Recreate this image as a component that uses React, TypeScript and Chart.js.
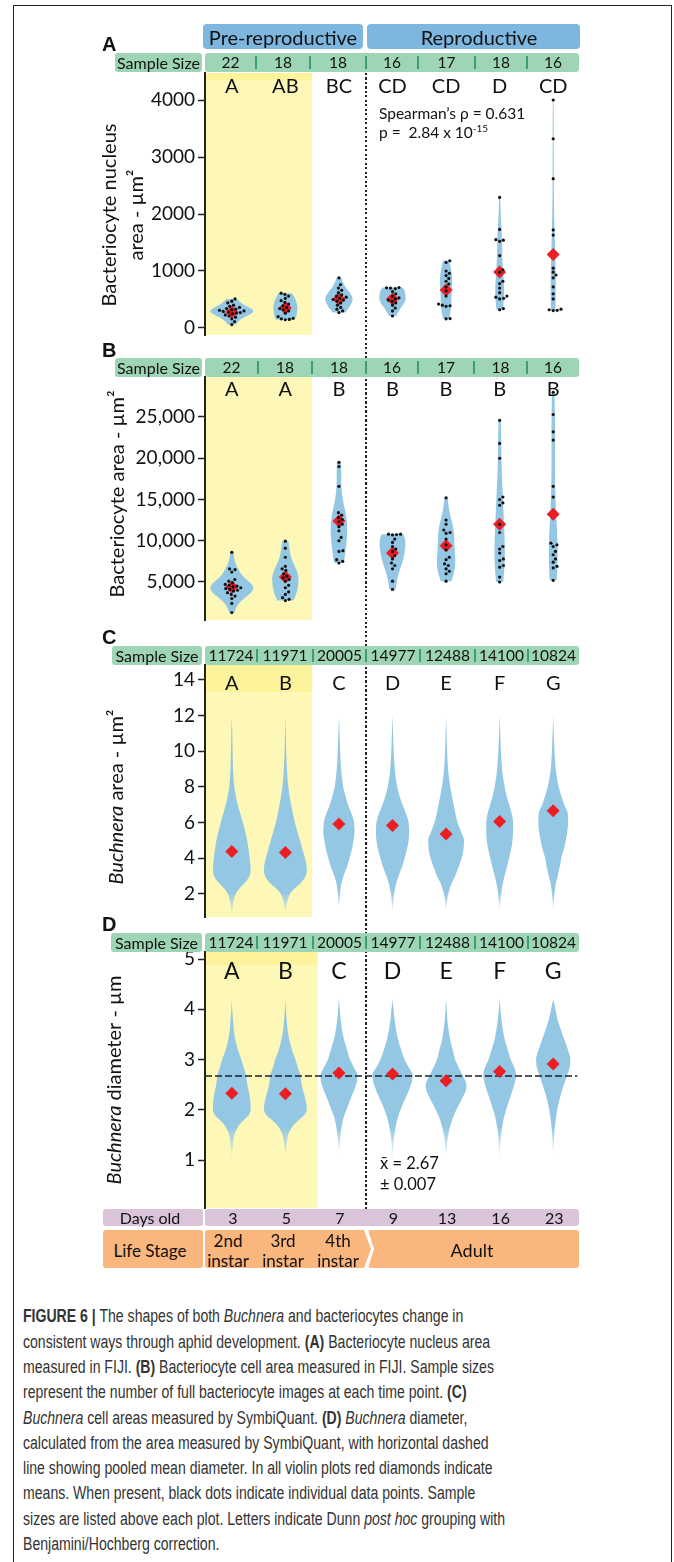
import React, { useEffect, useRef, useMemo } from "react";
import { Chart, registerables } from "chart.js";

Chart.register(...registerables);
Chart.defaults.font.family = "Lato";

if (typeof document !== "undefined") {
  document.body.style.margin = "0";
}

// ---------------- data ----------------
const phaseLabels = ["Pre-reproductive", "Reproductive"];
const daysOld = ["3", "5", "7", "9", "13", "16", "23"];
const instarLabels = ["2nd instar", "3rd instar", "4th instar"];
const adultLabel = "Adult";

// Panel A: bacteriocyte nucleus area (µm²)
const nucleusSampleSizes = ["22", "18", "18", "16", "17", "18", "16"];
const nucleusLetters = ["A", "AB", "BC", "CD", "CD", "D", "CD"];
const nucleusMeans = [281, 350, 509, 509, 667, 982, 1290];
const nucleusTicks = [0, 1000, 2000, 3000, 4000];
const nucleusPoints = [
  [510, 470, 440, 400, 380, 360, 340, 330, 320, 310, 300, 290, 280, 270, 260, 250, 230, 210, 190, 160, 110, 60],
  [610, 590, 560, 520, 480, 450, 420, 390, 360, 340, 320, 300, 260, 200, 170, 160, 150, 145],
  [880, 760, 700, 660, 620, 580, 560, 540, 520, 500, 490, 470, 440, 400, 360, 330, 300, 270],
  [710, 705, 700, 690, 640, 600, 560, 530, 510, 490, 470, 440, 400, 350, 300, 210],
  [1180, 1150, 1000, 960, 920, 870, 820, 770, 720, 650, 560, 420, 400, 390, 380, 165, 160],
  [2290, 1730, 1550, 1540, 1520, 1270, 1020, 980, 820, 780, 700, 620, 560, 540, 520, 510, 340, 320],
  [4000, 3320, 2620, 1720, 1630, 1050, 980, 930, 880, 720, 600, 510, 330, 320, 310, 305],
];

// Panel B: bacteriocyte area (µm²)
const cellSampleSizes = ["22", "18", "18", "16", "17", "18", "16"];
const cellLetters = ["A", "A", "B", "B", "B", "B", "B"];
const cellMeans = [4400, 5600, 12400, 8500, 9400, 12000, 13200];
const cellTicks = [5000, 10000, 15000, 20000, 25000];
const cellPoints = [
  [8600, 6600, 6500, 6200, 5300, 5100, 4900, 4700, 4600, 4500, 4400, 4300, 4200, 4100, 4000, 3900, 3700, 3500, 3300, 3000, 2400, 1300],
  [9950, 9100, 8000, 6900, 6600, 6400, 6000, 5700, 5500, 5300, 5100, 4600, 4300, 3800, 3500, 3100, 2900, 2750],
  [19500, 19000, 16600, 13400, 13100, 12800, 12600, 12300, 12000, 11700, 11200, 10400, 10000, 8800, 8700, 7700, 7500, 7300],
  [10800, 10800, 10750, 10700, 10200, 9800, 9300, 9000, 8700, 8200, 7800, 7300, 7000, 6600, 5100, 4100],
  [15200, 12500, 12000, 11300, 11000, 10900, 10200, 9500, 8900, 8000, 7700, 7200, 7000, 6600, 6300, 6000, 5100],
  [24600, 21800, 20000, 15300, 15000, 14600, 14300, 12000, 11000, 9300, 9000, 8500, 7800, 7600, 7000, 6800, 5600, 5000],
  [28000, 25300, 23200, 22200, 16600, 15300, 9700, 9500, 9300, 8700, 8300, 7800, 7400, 6900, 6700, 5200],
];

// Panels C & D: Buchnera (distributions given as relative density at levels)
const buchneraSampleSizes = ["11724", "11971", "20005", "14977", "12488", "14100", "10824"];
const buchneraLetters = ["A", "B", "C", "D", "E", "F", "G"];

const areaMeans = [4.38, 4.32, 5.93, 5.84, 5.37, 6.06, 6.67];
const areaTicks = [2, 4, 6, 8, 10, 12, 14];
const areaLevels = [0.8, 1.0, 1.3, 1.6, 2.0, 2.3, 2.6, 3.0, 3.3, 3.6, 4.0, 4.5, 5.0, 5.5, 6.0, 6.5, 7.0, 7.5, 8.0, 9.0, 10.0, 11.0, 12.0];
const areaDensity = [
  [0, 0.5, 1.0, 1.8, 3.8, 7.5, 12.5, 17.5, 18.7, 18.5, 17.8, 16.7, 15.3, 13.3, 11, 8.5, 6, 4, 2.6, 1.3, 0.8, 0.5, 0],
  [0, 0.3, 1.0, 2.0, 4.5, 9, 15, 20, 21.3, 21, 19.5, 17, 14.5, 12, 9.5, 7.5, 5.8, 4.2, 3, 1.5, 0.8, 0.4, 0],
  [0, 0, 0, 0.5, 1.0, 1.6, 2.5, 4.5, 6.5, 8.5, 10.5, 12.8, 14.5, 15.5, 15.0, 12.5, 9, 6.5, 4.3, 2.2, 1.2, 0.6, 0],
  [0, 0, 0.4, 0.8, 1.5, 2.5, 3.8, 6, 8, 10, 12, 14.3, 16, 16.5, 16, 13.5, 10, 7, 4.8, 2.3, 1.2, 0.6, 0],
  [0, 0, 0.4, 1.0, 2.2, 3.6, 5.5, 9, 11, 13, 15.3, 17.3, 17.8, 14.8, 11.5, 9.3, 7.5, 5.8, 4.2, 2.0, 1.0, 0.5, 0],
  [0, 0, 0.3, 0.8, 1.5, 2.2, 3.2, 4.8, 6.2, 7.6, 9.3, 11.3, 12.8, 13.3, 13.3, 12, 9.5, 7, 5, 2.5, 1.3, 0.6, 0],
  [0, 0, 0.3, 0.6, 1.2, 1.8, 2.6, 4.5, 5.5, 6.8, 8, 10.5, 12.5, 14, 14.8, 14.5, 11, 8, 5.5, 2.5, 1.3, 0.6, 0],
];

const diameterMeans = [2.33, 2.32, 2.73, 2.71, 2.58, 2.76, 2.91];
const diameterTicks = [1, 2, 3, 4, 5];
const pooledMeanDiameter = 2.67;
const diameterLevels = [1.0, 1.1, 1.2, 1.3, 1.4, 1.5, 1.6, 1.7, 1.8, 1.9, 2.0, 2.1, 2.2, 2.3, 2.4, 2.5, 2.6, 2.7, 2.8, 2.9, 3.0, 3.2, 3.4, 3.6, 3.8, 4.0, 4.2];
const diameterDensity = [
  [0, 0.4, 0.8, 1.2, 1.7, 2.5, 4.5, 7.5, 12, 17, 18.7, 18.7, 18.2, 17.5, 16.5, 15.5, 14.8, 14, 12.5, 11, 9.5, 6, 3.5, 2, 1.2, 0.5, 0],
  [0, 0.3, 0.7, 1.2, 1.8, 2.8, 5, 8.5, 13.5, 19, 21.3, 21, 20, 18.8, 17.3, 16.3, 15.5, 15, 13, 11.5, 10, 6.5, 3.8, 2.2, 1.2, 0.5, 0],
  [0, 0, 0.2, 0.5, 1.0, 1.5, 2.2, 3, 4, 5.5, 7.5, 9.3, 11.3, 13.3, 15.3, 17, 18.2, 18.3, 16, 13.5, 11, 8, 5, 3, 1.7, 0.8, 0],
  [0, 0.2, 0.5, 0.8, 1.2, 1.8, 2.6, 3.5, 4.7, 6.2, 8, 10, 12.2, 14.5, 16.5, 18.3, 19.7, 20, 17.5, 14.5, 12, 8.5, 5.5, 3.5, 2, 1, 0],
  [0, 0.2, 0.5, 0.9, 1.4, 2.2, 3.2, 4.5, 6, 8, 10.3, 12.8, 15.3, 17.8, 19.8, 20.3, 18.5, 16, 13.5, 11.2, 9, 6.5, 4, 2.4, 1.3, 0.6, 0],
  [0, 0.2, 0.4, 0.7, 1.0, 1.5, 2.1, 2.9, 3.8, 5, 6.5, 8, 9.7, 11.4, 13, 14.5, 15.7, 16.3, 15.3, 13.3, 11, 8, 5, 3.2, 1.8, 0.8, 0],
  [0, 0.1, 0.3, 0.5, 0.7, 1.0, 1.4, 1.9, 2.5, 3.2, 4, 5, 6.2, 7.5, 9, 10.6, 12.3, 14, 15.7, 16.8, 17, 14.5, 11, 7.5, 4.3, 2.2, 0],
];

// ---------------- layout / style ----------------
const W = 674;
const PLOT_LEFT = 205;
const PLOT_RIGHT = 580;
const PAD = 16;
const FONT = "Lato, 'Open Sans', sans-serif";
const COL = {
  blue: "rgb(125,182,223)",
  green: "rgb(158,214,181)",
  greenLine: "rgb(62,160,108)",
  mauve: "rgb(217,196,218)",
  orange: "rgb(249,182,125)",
  yellow: "rgb(254,248,184)",
  yellowStrong: "rgb(253,243,155)",
  violin: "rgb(147,199,227)",
  violinFaint: "rgba(147,199,227,0.12)",
  red: "rgb(236,30,36)",
  ink: "#111",
};

type Seg = { t: string; i?: boolean; b?: boolean };
type Spec = {
  id: string;
  plotTop: number;
  plotBottom: number;
  yMin: number;
  yMax: number;
  ticks: number[];
  fmt: (v: number) => string;
  letters: string[];
  letterY: number;
  letterSize: number;
  means: number[];
  points?: number[][];
  levels?: number[];
  density?: number[][];
  fade?: [number, number];
  title: Seg[][];
  titleX: number[];
  titleY: number;
  titleSize: number;
  yellowEnd: number;
  yellowStrip: number;
  refLine?: number;
};

const specs: Spec[] = [
  {
    id: "A", plotTop: 73, plotBottom: 335, yMin: -123, yMax: 4474,
    ticks: nucleusTicks, fmt: (v) => String(v),
    letters: nucleusLetters, letterY: 87, letterSize: 20, means: nucleusMeans, points: nucleusPoints,
    title: [[{ t: "Bacteriocyte nucleus" }], [{ t: "area - µm²" }]], titleX: [110, 137], titleY: 215, titleSize: 20,
    yellowEnd: 1.5, yellowStrip: 7,
  },
  {
    id: "B", plotTop: 377, plotBottom: 620, yMin: 394, yMax: 29848,
    ticks: cellTicks, fmt: (v) => v.toLocaleString("en-US"),
    letters: cellLetters, letterY: 390, letterSize: 20, means: cellMeans, points: cellPoints,
    title: [[{ t: "Bacteriocyte area - µm²" }]], titleX: [118], titleY: 494, titleSize: 20,
    yellowEnd: 1.5, yellowStrip: 0,
  },
  {
    id: "C", plotTop: 665, plotBottom: 917, yMin: 0.71, yMax: 14.84,
    ticks: areaTicks, fmt: (v) => String(v),
    letters: buchneraLetters, letterY: 684, letterSize: 20, means: areaMeans,
    levels: areaLevels, density: areaDensity, fade: [2.1, 0.9],
    title: [[{ t: "Buchnera", i: true }, { t: " area - µm²" }]], titleX: [117], titleY: 797, titleSize: 20,
    yellowEnd: 1.5, yellowStrip: 27,
  },
  {
    id: "D", plotTop: 952, plotBottom: 1208, yMin: 0.045, yMax: 5.14,
    ticks: diameterTicks, fmt: (v) => String(v),
    letters: buchneraLetters, letterY: 972, letterSize: 23, means: diameterMeans,
    levels: diameterLevels, density: diameterDensity, fade: [1.65, 1.05],
    title: [[{ t: "Buchnera", i: true }, { t: " diameter - µm" }]], titleX: [115], titleY: 1080, titleSize: 20,
    yellowEnd: 1.6, yellowStrip: 13, refLine: pooledMeanDiameter,
  },
];

// ---------------- helpers ----------------
function kdeProfile(vals: number[], steps = 140) {
  const n = vals.length;
  const mean = vals.reduce((a, b) => a + b, 0) / n;
  const sd = Math.sqrt(vals.reduce((a, b) => a + (b - mean) ** 2, 0) / (n - 1));
  const bw = sd * Math.pow(n, -1 / 5);
  const lo = Math.min(...vals);
  const hi = Math.max(...vals);
  const v: number[] = [];
  const d: number[] = [];
  for (let s = 0; s <= steps; s++) {
    const y = lo + ((hi - lo) * s) / steps;
    let sum = 0;
    for (const x of vals) sum += Math.exp(-0.5 * ((y - x) / bw) ** 2);
    v.push(y);
    d.push(sum / (n * bw * Math.sqrt(2 * Math.PI)));
  }
  return { v, d };
}

function smoothProfile(levels: number[], dens: number[], steps = 240) {
  const n = levels.length;
  const h: number[] = [];
  const delta: number[] = [];
  for (let i = 0; i < n - 1; i++) {
    h[i] = levels[i + 1] - levels[i];
    delta[i] = (dens[i + 1] - dens[i]) / h[i];
  }
  const m: number[] = new Array(n).fill(0);
  m[0] = delta[0];
  m[n - 1] = delta[n - 2];
  for (let i = 1; i < n - 1; i++) {
    if (delta[i - 1] * delta[i] <= 0) m[i] = 0;
    else {
      const w1 = 2 * h[i] + h[i - 1];
      const w2 = h[i] + 2 * h[i - 1];
      m[i] = (w1 + w2) / (w1 / delta[i - 1] + w2 / delta[i]);
    }
  }
  const v: number[] = [];
  const d: number[] = [];
  const lo = levels[0];
  const hi = levels[n - 1];
  let i = 0;
  for (let s = 0; s <= steps; s++) {
    const y = lo + ((hi - lo) * s) / steps;
    while (i < n - 2 && y > levels[i + 1]) i++;
    const t = (y - levels[i]) / h[i];
    const t2 = t * t;
    const t3 = t2 * t;
    const val =
      (2 * t3 - 3 * t2 + 1) * dens[i] +
      (t3 - 2 * t2 + t) * h[i] * m[i] +
      (-2 * t3 + 3 * t2) * dens[i + 1] +
      (t3 - t2) * h[i] * m[i + 1];
    v.push(y);
    d.push(Math.max(0, val));
  }
  return { v, d };
}

function swarm(px: number[], dist: number): number[] {
  const order = px.map((_, i) => i).sort((a, b) => px[a] - px[b]);
  const placed: { x: number; y: number }[] = [];
  const out = new Array(px.length).fill(0);
  for (const i of order) {
    const y = px[i];
    for (let k = 0; k < 600; k++) {
      const x = (k % 2 === 1 ? 1 : -1) * Math.ceil(k / 2) * 0.25;
      if (placed.every((p) => (p.x - x) ** 2 + (p.y - y) ** 2 >= dist * dist)) {
        out[i] = x;
        placed.push({ x, y });
        break;
      }
    }
  }
  return out;
}

function PanelChart({ spec }: { spec: Spec }) {
  const ref = useRef<HTMLCanvasElement>(null);
  const canvasTop = spec.plotTop - PAD;
  const height = spec.plotBottom - spec.plotTop + 2 * PAD;

  useEffect(() => {
    if (!ref.current) return;
    const pxPerCat = (PLOT_RIGHT - PLOT_LEFT) / 7;
    const pxPerVal = (spec.plotBottom - spec.plotTop) / (spec.yMax - spec.yMin);
    const dots: { x: number; y: number }[] = [];
    if (spec.points) {
      spec.points.forEach((vals, i) => {
        const offs = swarm(vals.map((v) => v * pxPerVal), 3.9);
        vals.forEach((v, k) => dots.push({ x: i + offs[k] / pxPerCat, y: v }));
      });
    }
    const profiles = spec.points
      ? spec.points.map((vals) => kdeProfile(vals))
      : spec.density!.map((d) => smoothProfile(spec.levels!, d));
    const maxD = Math.max(...profiles.map((p) => Math.max(...p.d)));

    const plugin = {
      id: "figure" + spec.id,
      beforeDraw(chart: any) {
        const { ctx, chartArea: a, scales } = chart;
        const x = scales.x;
        ctx.save();
        const xEnd = x.getPixelForValue(spec.yellowEnd);
        ctx.fillStyle = COL.yellow;
        ctx.fillRect(a.left, a.top, xEnd - a.left, a.bottom - a.top);
        if (spec.yellowStrip) {
          ctx.fillStyle = COL.yellowStrong;
          ctx.fillRect(a.left, a.top, xEnd - a.left, spec.yellowStrip);
        }
        // y-axis title
        spec.title.forEach((line, li) => {
          ctx.save();
          ctx.translate(spec.titleX[li], spec.titleY - canvasTop);
          ctx.rotate(-Math.PI / 2);
          ctx.textBaseline = "middle";
          ctx.fillStyle = COL.ink;
          const fontOf = (s: Seg) => `${s.i ? "italic " : ""}${spec.titleSize}px Lato`;
          let total = 0;
          line.forEach((s) => {
            ctx.font = fontOf(s);
            total += ctx.measureText(s.t).width;
          });
          let cx = -total / 2;
          line.forEach((s) => {
            ctx.font = fontOf(s);
            ctx.textAlign = "left";
            ctx.fillText(s.t, cx, 0);
            cx += ctx.measureText(s.t).width;
          });
          ctx.restore();
        });
        ctx.restore();
      },
      beforeDatasetsDraw(chart: any) {
        const { ctx, chartArea: a, scales } = chart;
        const x = scales.x;
        const y = scales.y;
        const half = 0.4 * (x.getPixelForValue(1) - x.getPixelForValue(0));
        ctx.save();
        ctx.beginPath();
        ctx.rect(a.left, a.top, a.right - a.left, a.bottom - a.top);
        ctx.clip();
        let fill: any = COL.violin;
        if (spec.fade) {
          const g = ctx.createLinearGradient(0, y.getPixelForValue(spec.fade[0]), 0, y.getPixelForValue(spec.fade[1]));
          g.addColorStop(0, COL.violin);
          g.addColorStop(1, COL.violinFaint);
          fill = g;
        }
        ctx.fillStyle = fill;
        profiles.forEach((p, i) => {
          const cx = x.getPixelForValue(i);
          ctx.beginPath();
          p.v.forEach((v, k) => {
            const px = cx + (p.d[k] / maxD) * half;
            const py = y.getPixelForValue(v);
            if (k === 0) ctx.moveTo(px, py);
            else ctx.lineTo(px, py);
          });
          for (let k = p.v.length - 1; k >= 0; k--) {
            ctx.lineTo(cx - (p.d[k] / maxD) * half, y.getPixelForValue(p.v[k]));
          }
          ctx.closePath();
          ctx.fill();
        });
        if (spec.refLine !== undefined) {
          const ry = y.getPixelForValue(spec.refLine);
          ctx.strokeStyle = "#222";
          ctx.lineWidth = 1.5;
          ctx.setLineDash([7, 3]);
          ctx.beginPath();
          ctx.moveTo(a.left, ry);
          ctx.lineTo(x.getPixelForValue(6.45), ry);
          ctx.stroke();
          ctx.setLineDash([]);
        }
        ctx.restore();
      },
      afterDatasetsDraw(chart: any) {
        const { ctx, scales } = chart;
        const x = scales.x;
        ctx.save();
        ctx.font = `${spec.letterSize}px Lato`;
        ctx.textAlign = "center";
        ctx.textBaseline = "middle";
        ctx.fillStyle = COL.ink;
        spec.letters.forEach((l, i) => {
          ctx.fillText(l, x.getPixelForValue(i), spec.letterY - canvasTop);
        });
        ctx.restore();
      },
    };

    const chart = new Chart(ref.current, {
      type: "scatter",
      data: {
        datasets: [
          {
            data: dots,
            pointRadius: 1.6,
            pointBackgroundColor: "#111",
            pointBorderWidth: 0,
            order: 0,
          },
          {
            data: spec.means.map((m, i) => ({ x: i, y: m })),
            pointStyle: "rectRot",
            pointRadius: 6.5,
            pointBackgroundColor: COL.red,
            pointBorderWidth: 0,
            order: 1,
          },
        ],
      },
      options: {
        responsive: false,
        animation: false,
        devicePixelRatio: 1,
        events: [],
        layout: { padding: { top: PAD, bottom: PAD, left: 0, right: W - PLOT_RIGHT } },
        plugins: { legend: { display: false }, tooltip: { enabled: false } },
        scales: {
          x: { type: "linear", min: -0.5, max: 6.5, display: false },
          y: {
            type: "linear",
            min: spec.yMin,
            max: spec.yMax,
            afterFit: (s: any) => {
              s.width = PLOT_LEFT;
            },
            afterBuildTicks: (s: any) => {
              s.ticks = spec.ticks.map((v) => ({ value: v }));
            },
            ticks: {
              callback: (v: any) => spec.fmt(Number(v)),
              font: { family: "Lato", size: 19 },
              color: COL.ink,
              padding: 3,
            },
            grid: {
              drawOnChartArea: false,
              drawTicks: true,
              tickLength: 7,
              tickWidth: 1.5,
              tickColor: "#222",
            },
            border: { display: true, color: "#222", width: 2 },
          },
        },
      } as any,
      plugins: [plugin],
    });
    return () => chart.destroy();
  }, [spec]);

  return (
    <canvas
      ref={ref}
      width={W}
      height={height}
      style={{ position: "absolute", left: 0, top: canvasTop, width: W, height, zIndex: 1 }}
    />
  );
}

function Txt(props: {
  x: number;
  y: number;
  size: number;
  children: React.ReactNode;
  align?: "center" | "left";
  weight?: number;
  family?: string;
  color?: string;
}) {
  const { x, y, size, children, align = "center", weight = 400, family = FONT, color = COL.ink } = props;
  return (
    <div
      style={{
        position: "absolute",
        left: x,
        top: y,
        transform: align === "center" ? "translate(-50%,-50%)" : "translate(0,-50%)",
        fontSize: size,
        lineHeight: `${size}px`,
        fontFamily: family,
        fontWeight: weight,
        whiteSpace: "pre",
        color,
        zIndex: 4,
      }}
    >
      {children}
    </div>
  );
}

function Box(props: { left: number; top: number; width: number; height: number; bg: string; radius?: number; clip?: string }) {
  return (
    <div
      style={{
        position: "absolute",
        left: props.left,
        top: props.top,
        width: props.width,
        height: props.height,
        background: props.bg,
        borderRadius: props.radius ?? 3,
        clipPath: props.clip,
        zIndex: 3,
      }}
    />
  );
}

function SampleRow(props: { top: number; labelLeft: number; seps: number[]; values: string[]; size: number }) {
  const h = 19;
  const { top, labelLeft, seps, values, size } = props;
  const edges = [PLOT_LEFT, ...seps, PLOT_RIGHT - 1];
  return (
    <>
      <Box left={labelLeft} top={top} width={202 - labelLeft} height={h} bg={COL.green} />
      <Txt x={(labelLeft + 202) / 2} y={top + h / 2} size={16}>Sample Size</Txt>
      <Box left={PLOT_LEFT} top={top} width={PLOT_RIGHT - 1 - PLOT_LEFT} height={h} bg={COL.green} />
      {seps.map((s, i) => (
        <div
          key={i}
          style={{ position: "absolute", left: s - 1, top: top + 3, width: 2, height: h - 6, background: COL.greenLine, zIndex: 3 }}
        />
      ))}
      {values.map((v, i) => (
        <Txt key={i} x={(edges[i] + edges[i + 1]) / 2} y={top + h / 2} size={size}>{v}</Txt>
      ))}
    </>
  );
}

const captionLines: Seg[][] = [
  [{ t: "FIGURE 6 |", b: true }, { t: " The shapes of both " }, { t: "Buchnera", i: true }, { t: " and bacteriocytes change in" }],
  [{ t: "consistent ways through aphid development. " }, { t: "(A)", b: true }, { t: " Bacteriocyte nucleus area" }],
  [{ t: "measured in FIJI. " }, { t: "(B)", b: true }, { t: " Bacteriocyte cell area measured in FIJI. Sample sizes" }],
  [{ t: "represent the number of full bacteriocyte images at each time point. " }, { t: "(C)", b: true }],
  [{ t: "Buchnera", i: true }, { t: " cell areas measured by SymbiQuant. " }, { t: "(D)", b: true }, { t: " " }, { t: "Buchnera", i: true }, { t: " diameter," }],
  [{ t: "calculated from the area measured by SymbiQuant, with horizontal dashed" }],
  [{ t: "line showing pooled mean diameter. In all violin plots red diamonds indicate" }],
  [{ t: "means. When present, black dots indicate individual data points. Sample" }],
  [{ t: "sizes are listed above each plot. Letters indicate Dunn " }, { t: "post hoc", i: true }, { t: " grouping with" }],
  [{ t: "Benjamini/Hochberg correction." }],
];

export default function App() {
  const catX = (i: number) => PLOT_LEFT + ((i + 0.5) * (PLOT_RIGHT - PLOT_LEFT)) / 7;
  const captionScale = useMemo(() => {
    const c = document.createElement("canvas").getContext("2d");
    if (!c) return 0.75;
    c.font = "18px 'Liberation Sans'";
    const w = c.measureText("sizes are listed above each plot. Letters indicate Dunn post hoc grouping with").width;
    return 482 / w;
  }, []);

  return (
    <div style={{ position: "relative", width: W, height: 1562, overflow: "hidden", fontFamily: FONT, background: "#fff" }}>
      {/* frame */}
      <div
        style={{
          position: "absolute",
          left: 13,
          top: 5,
          width: 659,
          height: 1620,
          border: "1.5px solid #222",
          boxSizing: "border-box",
          zIndex: 0,
        }}
      />

      {/* panel letters */}
      {[
        ["A", 44],
        ["B", 350],
        ["C", 637],
        ["D", 924],
      ].map(([l, y]) => (
        <Txt key={l as string} x={102} y={y as number} size={20} weight={700} align="left" family="'Liberation Sans', Arial, sans-serif">
          {l}
        </Txt>
      ))}

      {/* phase header */}
      <Box left={203} top={24} width={160} height={25} bg={COL.blue} radius={4} />
      <Txt x={283} y={37} size={20}>{phaseLabels[0]}</Txt>
      <Box left={367} top={24} width={213} height={25} bg={COL.blue} radius={4} />
      <Txt x={479} y={37} size={20}>{phaseLabels[1]}</Txt>

      <SampleRow top={53} labelLeft={115} seps={[256, 310, 366, 418, 475, 527]} values={nucleusSampleSizes} size={15.5} />
      <SampleRow top={358} labelLeft={115} seps={[258, 312, 366, 418, 474, 527]} values={cellSampleSizes} size={15.5} />
      <SampleRow top={646} labelLeft={112} seps={[257, 313, 366, 420, 475, 528]} values={buchneraSampleSizes} size={15.5} />
      <SampleRow top={933} labelLeft={111} seps={[257, 313, 366, 420, 475, 528]} values={buchneraSampleSizes} size={15.5} />

      {/* charts */}
      {specs.map((s) => (
        <PanelChart key={s.id} spec={s} />
      ))}

      {/* dotted divider */}
      <div
        style={{
          position: "absolute",
          left: 365,
          top: 73,
          width: 2,
          height: 1136,
          background: "repeating-linear-gradient(to bottom, #222 0px, #222 2px, transparent 2px, transparent 4.5px)",
          zIndex: 2,
        }}
      />

      {/* annotations */}
      <Txt x={379} y={114} size={15.5} align="left">Spearman’s ρ = 0.631</Txt>
      <Txt x={379} y={134} size={15.5} align="left">
        <span>{"p =  2.84 x 10"}</span>
        <span style={{ fontSize: 10, position: "relative", top: -6 }}>-15</span>
      </Txt>
      <Txt x={380} y={1163} size={16.5} align="left">x̄ = 2.67</Txt>
      <Txt x={380} y={1184} size={16.5} align="left">± 0.007</Txt>

      {/* days old row */}
      <Box left={103} top={1209} width={100} height={17} bg={COL.mauve} />
      <Txt x={150} y={1217.5} size={16}>Days old</Txt>
      <Box left={PLOT_LEFT} top={1209} width={PLOT_RIGHT - 1 - PLOT_LEFT} height={17} bg={COL.mauve} />
      {daysOld.map((d, i) => (
        <Txt key={d} x={catX(i) + 1} y={1217.5} size={16}>{d}</Txt>
      ))}

      {/* life stage row */}
      <Box left={103} top={1230} width={100} height={38} bg={COL.orange} />
      <Txt x={150} y={1250} size={17}>Life Stage</Txt>
      <Box left={PLOT_LEFT} top={1230} width={166} height={38} bg={COL.orange} radius={3} clip="polygon(0 0, 159px 0, 166px 50%, 159px 100%, 0 100%)" />
      <Box left={368} top={1230} width={211} height={38} bg={COL.orange} radius={3} clip="polygon(0 0, 100% 0, 100% 100%, 0 100%, 6px 50%)" />
      {instarLabels.map((l, i) => {
        const [a, b] = l.split(" ");
        const cx = [228, 283, 338][i];
        return (
          <React.Fragment key={l}>
            <Txt x={cx} y={1240} size={17}>{a}</Txt>
            <Txt x={cx} y={1260} size={17}>{b}</Txt>
          </React.Fragment>
        );
      })}
      <Txt x={472} y={1250} size={18}>{adultLabel}</Txt>

      {/* caption */}
      {captionLines.map((line, li) => (
        <div
          key={li}
          style={{
            position: "absolute",
            left: 23,
            top: 1317 + li * 25.3 - 12.65,
            height: 25.3,
            lineHeight: "25.3px",
            fontSize: 18,
            fontFamily: "'Liberation Sans', Arial, sans-serif",
            color: "#333",
            whiteSpace: "pre",
            transform: `scaleX(${captionScale})`,
            transformOrigin: "left center",
            zIndex: 4,
          }}
        >
          {line.map((s, k) => (
            <span key={k} style={{ fontWeight: s.b ? 700 : 400, fontStyle: s.i ? "italic" : "normal" }}>
              {s.t}
            </span>
          ))}
        </div>
      ))}
    </div>
  );
}
